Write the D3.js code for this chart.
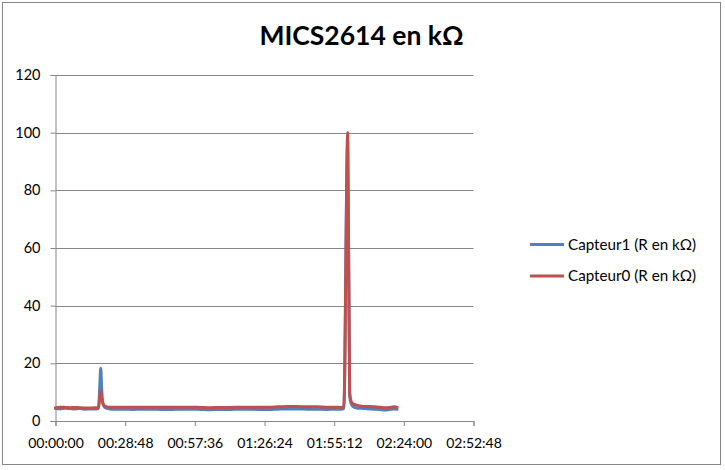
<!DOCTYPE html>
<html>
<head>
<meta charset="utf-8">
<script src="https://cdn.jsdelivr.net/npm/d3@7"></script>
<style>
  body { margin: 0; background: #fff; }
  svg { display: block; }
  text { font-family: Lato, "Open Sans", sans-serif; fill: #000; }
</style>
</head>
<body>
<svg id="chart" width="725" height="470"></svg>
<script>
// ---- Data (time in minutes from start, values in kΩ) ----
const times = [
  0, 2, 4, 6, 8, 10, 12, 14, 16,
  17, 17.8, 18.3, 18.7, 19.1, 19.6, 20.3, 21.2, 22.5,
  24, 28, 32, 36, 40, 44, 48, 52, 56, 60, 64, 68, 72, 76, 80, 84, 88, 92, 96, 100, 104, 108, 112, 116,
  118, 119.2, 120.8, 121.6, 122.3, 123.2, 124.5,
  126, 128, 130, 132, 134, 136, 138, 140, 141.2
];
const capteur1 = [
  4.3, 4.2, 4.4, 4.3, 4.2, 4.3, 4.1, 4.2, 4.2,
  4.2, 4.3, 12.0, 18.3, 11.0, 6.0, 4.8, 4.4, 4.2,
  4.1, 4.1, 4.0, 4.1, 4.1, 4.0, 4.0, 4.1, 4.1, 4.0, 3.9, 4.0, 4.0, 4.1, 4.1, 4.0, 4.0, 4.1, 4.2, 4.2, 4.1, 4.1, 4.0, 4.1,
  4.1, 4.2, 97, 9.0, 5.8, 4.9, 4.5,
  4.4, 4.3, 4.2, 4.1, 4.0, 3.8, 4.0, 4.2, 4.1
];
const capteur0 = [
  4.6, 4.8, 4.7, 4.6, 4.7, 4.6, 4.5, 4.5, 4.6,
  4.6, 4.7, 8.5, 10.4, 8.0, 6.2, 5.2, 4.9, 4.8,
  4.8, 4.8, 4.8, 4.8, 4.8, 4.8, 4.8, 4.8, 4.8, 4.7, 4.6, 4.7, 4.7, 4.8, 4.8, 4.8, 4.8, 4.9, 5.0, 5.0, 4.9, 4.9, 4.8, 4.8,
  4.7, 4.9, 100, 10.0, 6.6, 5.9, 5.5,
  5.2, 5.0, 5.0, 4.9, 4.8, 4.6, 4.7, 4.9, 4.8
];
const seriesNames = ["Capteur1 (R en kΩ)", "Capteur0 (R en kΩ)"];
const seriesColors = ["#4F81BD", "#C0504D"];
const yTicks = [0, 20, 40, 60, 80, 100, 120];
const xTickLabels = ["00:00:00", "00:28:48", "00:57:36", "01:26:24", "01:55:12", "02:24:00", "02:52:48"];
const xTicks = [0, 28.8, 57.6, 86.4, 115.2, 144, 172.8];
const title = "MICS2614 en kΩ";

// ---- Layout ----
const svg = d3.select("#chart");
const mLeft = 55.5, mRight = 473.5, mTop = 75, mBottom = 421;
const gray = "#868686";

svg.append("rect")
  .attr("x", 2.5).attr("y", 2.5).attr("width", 718).attr("height", 462)
  .attr("fill", "#fff").attr("stroke", gray).attr("stroke-width", 1);

const x = d3.scaleLinear().domain([0, 172.8]).range([mLeft, mRight]);
const y = d3.scaleLinear().domain([0, 120]).range([mBottom, mTop]);

// gridlines
svg.append("g").selectAll("line").data(yTicks.filter(d => d > 0)).join("line")
  .attr("x1", mLeft).attr("x2", mRight)
  .attr("y1", d => Math.round(y(d)) + 0.5).attr("y2", d => Math.round(y(d)) + 0.5)
  .attr("stroke", gray).attr("stroke-width", 1);

// y axis
const yAxis = d3.axisLeft(y).tickValues(yTicks).tickSize(5).tickPadding(10).tickFormat(d3.format("d"));
const gy = svg.append("g").attr("transform", `translate(${mLeft},0)`).call(yAxis);
gy.select(".domain").attr("stroke", gray);
gy.selectAll(".tick line").attr("stroke", gray);
gy.selectAll("text").style("font-size", "14.5px").attr("fill", "#000");

// x axis
const xAxis = d3.axisBottom(x).tickValues(xTicks).tickSize(5).tickPadding(12)
  .tickFormat((d, i) => xTickLabels[i]);
const gx = svg.append("g").attr("transform", `translate(0,${mBottom})`).call(xAxis);
gx.select(".domain").attr("stroke", gray);
gx.selectAll(".tick line").attr("stroke", gray);
gx.selectAll("text").style("font-size", "14px").attr("fill", "#000");

// lines
const line = d3.line().x((d, i) => x(times[i])).y(d => y(d)).curve(d3.curveMonotoneX);
[capteur1, capteur0].forEach((vals, k) => {
  svg.append("path").datum(vals)
    .attr("d", line)
    .attr("fill", "none")
    .attr("stroke", seriesColors[k])
    .attr("stroke-width", 3)
    .attr("stroke-linejoin", "round")
    .attr("stroke-linecap", "round");
});

// title
svg.append("text")
  .attr("x", 361.5).attr("y", 45)
  .attr("text-anchor", "middle")
  .style("font-size", "26.5px").style("font-weight", "bold")
  .text(title);

// legend
const lg = svg.append("g");
seriesNames.forEach((name, k) => {
  const yy = 244.5 + k * 31.5;
  lg.append("line").attr("x1", 530).attr("x2", 564).attr("y1", yy).attr("y2", yy)
    .attr("stroke", seriesColors[k]).attr("stroke-width", 3);
  lg.append("text").attr("x", 568).attr("y", yy + 5)
    .style("font-size", "15.2px").text(name);
});
</script>
</body>
</html>
